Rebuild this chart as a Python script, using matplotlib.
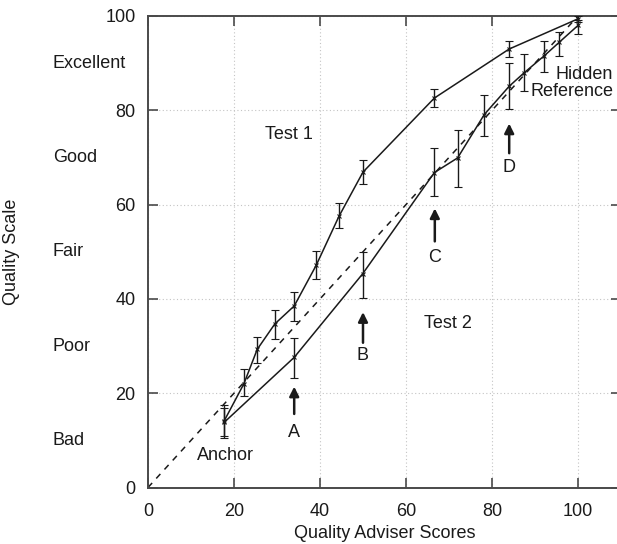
import matplotlib
matplotlib.use("Agg")
import matplotlib.pyplot as plt
from matplotlib.transforms import blended_transform_factory

plt.rcParams['font.family'] = ['Liberation Sans', 'DejaVu Sans']

# Test 1 (upper curve): mean score and error-bar ends
x_test1 = [17.7, 22.3, 25.4, 29.5, 34.0, 39.1, 44.4, 50.0, 66.6, 84.0, 100.0]
y_test1 = [14.1, 22.0, 29.3, 34.7, 38.5, 47.1, 57.5, 66.9, 82.6, 93.0, 99.4]
lo_test1 = [10.4, 19.4, 26.4, 31.6, 35.3, 44.3, 55.0, 64.4, 80.8, 91.4, 98.8]
hi_test1 = [17.5, 25.1, 31.9, 37.6, 41.4, 50.1, 60.3, 69.5, 84.6, 94.7, 100.0]

# Test 2 (lower curve)
x_test2 = [17.7, 34.0, 49.9, 66.6, 72.0, 78.2, 84.0, 87.4, 92.2, 95.6, 100.0]
y_test2 = [13.8, 27.6, 45.3, 66.8, 69.9, 79.1, 85.1, 87.9, 91.6, 94.4, 98.0]
lo_test2 = [10.9, 23.3, 40.1, 61.9, 63.7, 74.5, 80.3, 84.0, 88.2, 91.6, 96.1]
hi_test2 = [16.9, 31.7, 50.0, 72.0, 75.9, 83.3, 90.1, 91.9, 94.8, 96.6, 99.2]

# Verbal quality scale
scale_names = ["Bad", "Poor", "Fair", "Good", "Excellent"]
scale_levels = [10, 30, 50, 70, 90]

# Marked conditions (arrow x, arrow tail, arrow head, label y)
marker_names = ["A", "B", "C", "D"]
marker_x = [34.0, 50.0, 66.7, 84.0]
marker_tail = [15.6, 30.7, 52.2, 70.9]
marker_head = [21.4, 37.2, 59.2, 77.2]
marker_label_y = [11.6, 27.9, 48.7, 67.8]

ticks = [0, 20, 40, 60, 80, 100]

W, H = 617, 544
FS = 13
fig = plt.figure(figsize=(W / 100, H / 100), dpi=100)
ax = fig.add_axes([148 / W, (H - 487.5) / H, (621 - 148) / W, (487.5 - 16) / H])

ink = '#1a1a1a'
spine_col = '#4a4a4a'

ax.plot([0, 100], [0, 100], color=ink, lw=1.1, dashes=(4, 4), zorder=2)

for xs, ys, lo, hi in [(x_test1, y_test1, lo_test1, hi_test1),
                       (x_test2, y_test2, lo_test2, hi_test2)]:
    err = [[y - l for y, l in zip(ys, lo)], [h - y for y, h in zip(ys, hi)]]
    ax.errorbar(xs, ys, yerr=err, color=ink, lw=1.1, elinewidth=1.0,
                capsize=2.8, capthick=1.0, marker='x', ms=3, mew=0.8, zorder=3)

ax.set_xlim(0, 110)
ax.set_ylim(0, 100)
ax.set_xticks(ticks)
ax.set_yticks(ticks)
ax.grid(True, color='#c4c4c4', lw=0.8, ls=(0, (1, 2.2)))
ax.set_axisbelow(True)

for s in ax.spines.values():
    s.set_color(spine_col)
    s.set_linewidth(1.4)

ax.tick_params(direction='in', length=7, width=1.2, color=spine_col,
               top=True, right=True, labelsize=FS, labelcolor=ink)
ax.tick_params(axis='x', pad=11)
ax.tick_params(axis='y', pad=9)

ax.set_xlabel("Quality Adviser Scores", fontsize=FS, color=ink, labelpad=4)
ax.set_ylabel("Quality Scale", fontsize=FS, color=ink)
ax.yaxis.set_label_coords((20 - 148) / (621 - 148), 0.5)

trans = blended_transform_factory(fig.transFigure, ax.transData)
for name, lvl in zip(scale_names, scale_levels):
    ax.text(53 / W, lvl, name, transform=trans, ha='left', va='center',
            fontsize=FS, color=ink, clip_on=False)

for name, mx, t0, t1, ly in zip(marker_names, marker_x, marker_tail,
                                marker_head, marker_label_y):
    ax.annotate("", xy=(mx, t1), xytext=(mx, t0),
                arrowprops=dict(arrowstyle='-|>', color=ink, lw=1.8,
                                mutation_scale=14, shrinkA=0, shrinkB=0))
    ax.text(mx, ly, name, ha='center', va='center', fontsize=FS, color=ink)

ax.text(32.8, 74.9, "Test 1", ha='center', va='center', fontsize=FS, color=ink)
ax.text(69.8, 34.7, "Test 2", ha='center', va='center', fontsize=FS, color=ink)
ax.text(17.9, 6.7, "Anchor", ha='center', va='center', fontsize=FS, color=ink)
ax.text(108.2, 85.8, "Hidden\nReference", ha='right', va='center',
        multialignment='right', fontsize=FS, color=ink, linespacing=1.0)

fig.savefig("out.png", dpi=100)
